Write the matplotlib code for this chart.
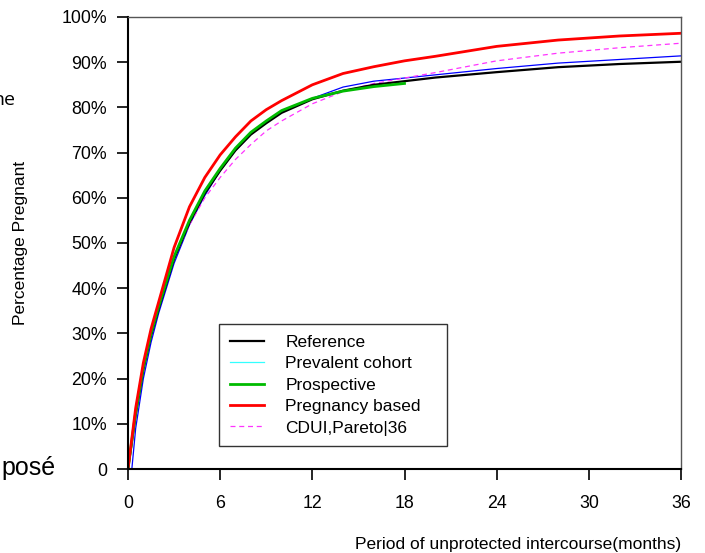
import numpy as np
import matplotlib
matplotlib.use('Agg')
import matplotlib.pyplot as plt
from matplotlib.lines import Line2D

plt.rcParams['font.family'] = ['Liberation Sans', 'DejaVu Sans']

# meses y porcentaje de embarazadas
meses = [0, 0.5, 1, 1.5, 2, 3, 4, 5, 6, 7, 8, 9, 10, 12, 14, 16, 18, 20, 24, 28, 32, 36]
referencia = [0, 12, 22, 29.5, 35.5, 46.5, 54.5, 61, 66, 70.5, 74, 76.5, 78.8, 81.8, 83.7, 85,
              85.8, 86.6, 87.8, 88.9, 89.6, 90.1]
embarazo = [0, 13.5, 23.5, 31, 37, 49, 58, 64.5, 69.5, 73.5, 77, 79.5, 81.5, 85, 87.5, 89,
            90.3, 91.3, 93.5, 94.9, 95.8, 96.4]
cdui = [0, 12.5, 22.5, 30, 36, 46.5, 54, 60, 64.5, 68.5, 71.8, 74.8, 77, 80.8, 83.5, 85.3,
        86.5, 87.7, 90.3, 92, 93.2, 94.2]

meses_prev = [0.25, 0.5, 1, 1.5, 2, 3, 4, 5, 6, 7, 8, 9, 10, 12, 14, 16, 18, 20, 24, 28, 32, 36]
prevalente = [0, 9, 20, 28, 34.5, 45.5, 54, 60.5, 66, 70.5, 74, 76.8, 79, 82, 84.5, 85.8,
              86.5, 87.2, 88.6, 89.8, 90.6, 91.4]

meses_pros = [0, 0.5, 1, 1.5, 2, 3, 4, 5, 6, 7, 8, 9, 10, 12, 14, 16, 18]
prospectivo = [0, 12.5, 22.5, 30, 36, 47, 55, 61.5, 66.5, 71, 74.5, 77, 79.3, 82, 83.6, 84.6, 85.3]

etiquetas = ['Reference', 'Prevalent cohort', 'Prospective', 'Pregnancy based', 'CDUI,Pareto|36']

fig = plt.figure(figsize=(7.05, 5.53), dpi=100)
ax = fig.add_axes([128/705, 1 - 469/553, 553/705, 452/553])

ax.plot(meses_prev, prevalente, color='#0000ff', linewidth=0.9)
ax.plot(meses, cdui, color='#ff33ff', linewidth=0.9, linestyle=(0, (4, 3)))
ax.plot(meses, referencia, color='black', linewidth=1.6)
ax.plot(meses_pros, prospectivo, color='#00bb00', linewidth=2.0)
ax.plot(meses, embarazo, color='#ff0000', linewidth=2.0)

ax.set_xlim(0, 36)
ax.set_ylim(0, 100)
ax.set_xticks([0, 6, 12, 18, 24, 30, 36])
ax.set_yticks(np.arange(0, 101, 10))
ax.set_yticklabels(['0'] + [f'{v}%' for v in range(10, 101, 10)])
ax.tick_params(axis='both', direction='out', length=8, width=1.2, labelsize=12.8, colors='black')
ax.tick_params(axis='y', pad=7)
ax.tick_params(axis='x', pad=11)

for lado in ['left', 'bottom']:
    ax.spines[lado].set_linewidth(1.5)
    ax.spines[lado].set_color('black')
for lado in ['top', 'right']:
    ax.spines[lado].set_linewidth(1.0)
    ax.spines[lado].set_color('#555555')

ax.set_ylabel('Percentage Pregnant', fontsize=12.5)
ax.yaxis.label.set_verticalalignment('center')
ax.yaxis.set_label_coords(-0.195, 0.5)
ax.set_xlabel('Period of unprotected intercourse(months)', fontsize=12.5, loc='right')
ax.xaxis.set_label_coords(1.0, -0.168)
ax.xaxis.label.set_verticalalignment('center')

# el color de la leyenda para la cohorte prevalente es cian en el original
manejadores = [
    Line2D([], [], color='black', linewidth=1.6),
    Line2D([], [], color='#33ffff', linewidth=0.9),
    Line2D([], [], color='#00bb00', linewidth=2.0),
    Line2D([], [], color='#ff0000', linewidth=2.0),
    Line2D([], [], color='#ff33ff', linewidth=0.9, linestyle=(0, (4, 3))),
]
leg = ax.legend(manejadores, etiquetas, loc='lower left', bbox_to_anchor=(0.165, 0.051, 0.412, 0.268),
                mode='expand', fontsize=12.5, frameon=True, fancybox=False, handlelength=2.0,
                handletextpad=1.2, labelspacing=0.36, borderpad=0.6, borderaxespad=0)
leg.get_frame().set_edgecolor('black')
leg.get_frame().set_linewidth(1.0)

# restos de texto de la diapositiva original
fig.text(15/705, 1 - 100/553, 'ne', fontsize=14, ha='right', va='center', family=['Open Sans', 'DejaVu Sans'])
fig.text(56/705, 1 - 468/553, 'posé', fontsize=18, ha='right', va='center')

fig.savefig('out.png', dpi=100)
